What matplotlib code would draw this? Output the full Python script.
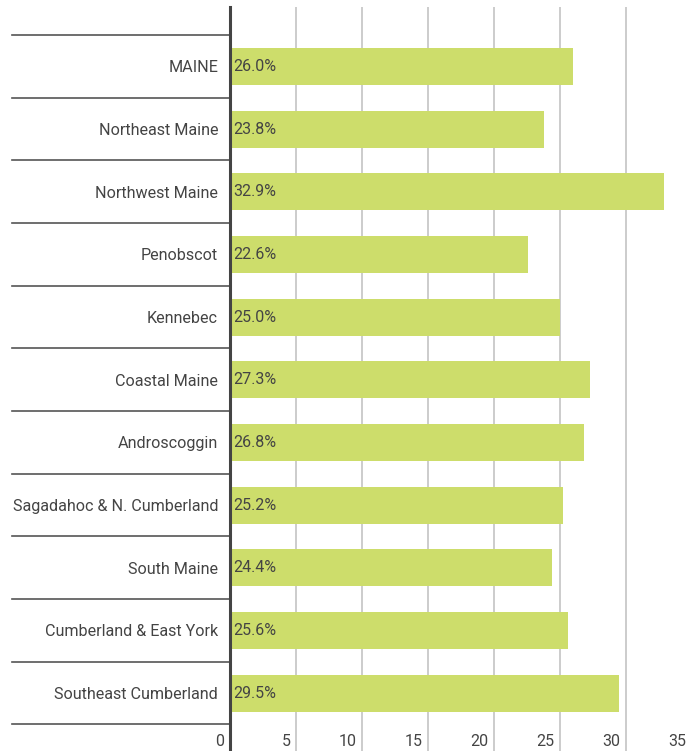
import matplotlib.pyplot as plt
import numpy as np
from matplotlib.transforms import blended_transform_factory

regions = [
    "MAINE",
    "Northeast Maine",
    "Northwest Maine",
    "Penobscot",
    "Kennebec",
    "Coastal Maine",
    "Androscoggin",
    "Sagadahoc & N. Cumberland",
    "South Maine",
    "Cumberland & East York",
    "Southeast Cumberland",
]
rates = [26.0, 23.8, 32.9, 22.6, 25.0, 27.3, 26.8, 25.2, 24.4, 25.6, 29.5]
x_ticks = [0, 5, 10, 15, 20, 25, 30, 35]

BAR_COLOR = "#cddd6b"
TEXT_COLOR = "#444444"

plt.rcParams['font.family'] = ['Roboto', 'DejaVu Sans']

fig = plt.figure(figsize=(6.9, 7.51), dpi=100)
ax = fig.add_axes([230 / 690, 0, 462 / 690, 744 / 751])

ypos = np.arange(len(regions))
ax.barh(ypos, rates, height=0.59, color=BAR_COLOR, zorder=2)

# value labels sit inside the bar, just right of the zero line
for y, v in zip(ypos, rates):
    ax.annotate(f"{v:.1f}%", xy=(0, y), xytext=(2.5, 0), textcoords="offset points",
                ha="left", va="center", fontsize=11.5, color=TEXT_COLOR, zorder=3)

ax.set_xlim(0, 35)
ax.set_ylim(len(regions) - 1 + 0.925, -0.949)

# category labels on the left
ax.set_yticks(ypos)
ax.set_yticklabels(regions, fontsize=11.6, color=TEXT_COLOR)
ax.tick_params(axis="y", length=0, pad=8.6)

# separator rules between categories, running out into the label area
trans = blended_transform_factory(ax.transAxes, ax.transData)
for b in np.arange(-0.5, len(regions)):
    ax.plot([-218 / 462, 0], [b, b], transform=trans, color="#555555", lw=1.2,
            clip_on=False, zorder=4)

# vertical grid with value labels drawn at the foot of each line
ax.set_xticks(x_ticks)
ax.set_xticklabels([])
ax.tick_params(axis="x", length=0)
ax.xaxis.grid(True, color="#cccccc", lw=1.4, zorder=0)
ax.set_axisbelow(True)
for t in x_ticks:
    ax.annotate(str(t), xy=(t, len(regions) - 1 + 0.78), xytext=(-4, 0),
                textcoords="offset points", ha="right", va="center",
                fontsize=11.5, color=TEXT_COLOR, annotation_clip=False)

for side in ["top", "right", "bottom"]:
    ax.spines[side].set_visible(False)
ax.spines["left"].set_color("#444444")
ax.spines["left"].set_linewidth(2.2)
ax.spines["left"].set_zorder(5)

fig.savefig("out.png", dpi=100)
